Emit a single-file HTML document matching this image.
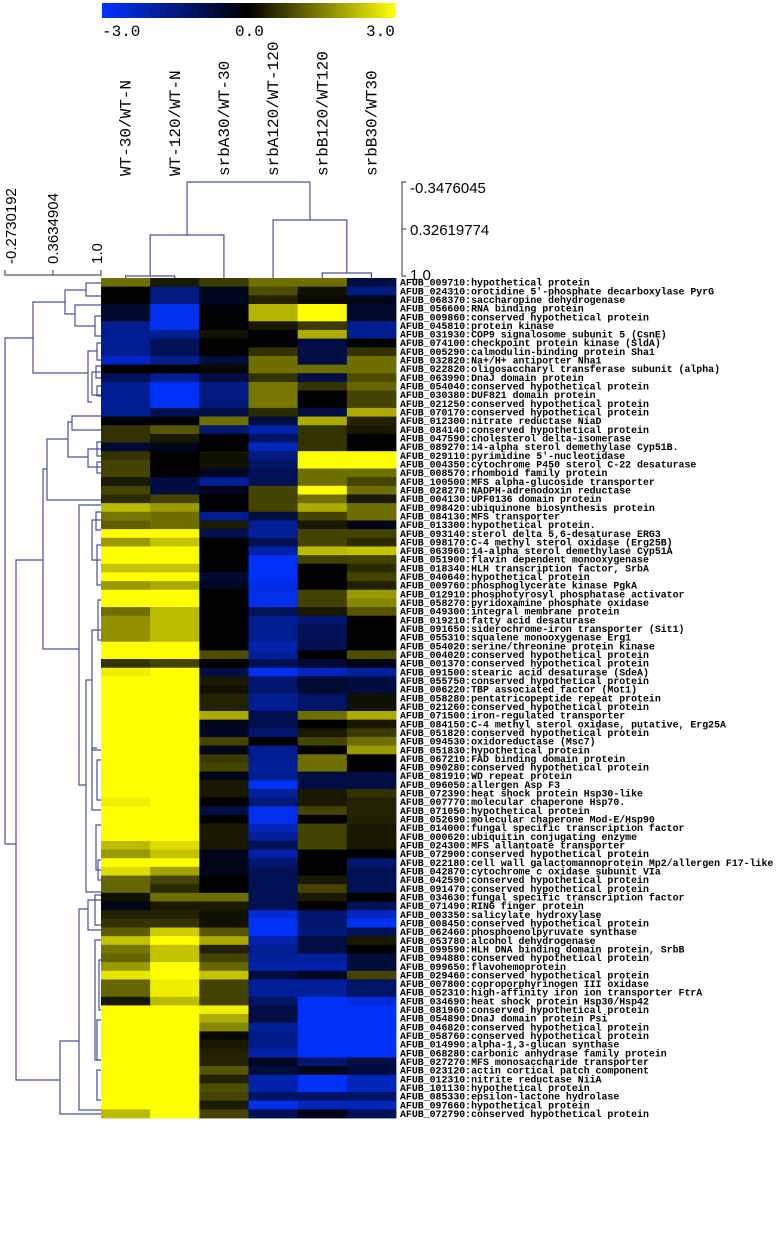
<!DOCTYPE html>
<html><head><meta charset="utf-8"><style>
html,body{margin:0;padding:0;background:#fff;}
svg{display:block;}
.rl{font-family:"Liberation Mono",monospace;font-size:9.9px;font-weight:bold;fill:#000;}
.cl{font-family:"Liberation Mono",monospace;font-size:16px;fill:#000;}
.sc{font-family:"Liberation Sans",sans-serif;font-size:15px;fill:#000;}
</style></head><body>
<svg id="chart" width="779" height="1233" viewBox="0 0 779 1233" xmlns="http://www.w3.org/2000/svg">
<defs><linearGradient id="cbg" x1="0" x2="1" y1="0" y2="0">
<stop offset="0" stop-color="#0033ff"/><stop offset="0.5" stop-color="#000"/><stop offset="1" stop-color="#ffff00"/></linearGradient></defs>
<rect x="0" y="0" width="779" height="1233" fill="#fff"/>
<g>
<rect x="102" y="3" width="293" height="15" fill="url(#cbg)"/>
<text class="cl" x="102" y="36">-3.0</text>
<text class="cl" x="235" y="36">0.0</text>
<text class="cl" x="366" y="36">3.0</text>
</g>
<g id="colLabels"></g>
<g id="colDendro" stroke="#4a5199" stroke-width="1.2" fill="none"></g>
<g stroke="#555" stroke-width="1.2" fill="none">
<path d="M406,182 H402 V276 H406 M402,229 H406"/>
</g>
<text class="sc" x="410" y="193">-0.3476045</text>
<text class="sc" x="410" y="235">0.32619774</text>
<text class="sc" x="410" y="280">1.0</text>
<g stroke="#555" stroke-width="1.2" fill="none">
<path d="M5,270 V275 H101 V270 M53,275 V270"/>
</g>
<text class="sc" transform="translate(16,264) rotate(-90)">-0.2730192</text>
<text class="sc" transform="translate(58,264) rotate(-90)">0.3634904</text>
<text class="sc" transform="translate(102,264) rotate(-90)">1.0</text>
<g id="rowDendro" stroke="#4a5199" stroke-width="1.2" fill="none"></g>
<g id="cells"></g>
<g id="rowLabels"></g>
</svg>
<script>
const columns = ["WT-30/WT-N","WT-120/WT-N","srbA30/WT-30","srbA120/WT-120","srbB120/WT120","srbB30/WT30"];
const rowIds = ["009710","024310","068370","056600","009860","045810","031930","074100","005290","032820","022820","063990","054040","030380","021250","070170","012300","084140","047590","089270","029110","004350","008570","100500","028270","004130","098420","084130","013300","093140","098170","063960","051900","018340","040640","009760","012910","058270","049300","019210","091650","055310","054020","004020","001370","091500","055750","006220","058280","021260","071500","084150","051820","094530","051830","067210","090280","081910","096050","072390","007770","071050","052690","014000","000620","024300","072900","022180","042870","042590","091470","034630","071490","003350","008450","062460","053780","099590","094880","099650","029460","007800","052310","034690","081960","054890","046820","058760","014990","068280","027270","023120","012310","101130","085330","097660","072790"];
const rowNames = ["hypothetical protein","orotidine 5'-phosphate decarboxylase PyrG","saccharopine dehydrogenase","RNA binding protein","conserved hypothetical protein","protein kinase","COP9 signalosome subunit 5 (CsnE)","checkpoint protein kinase (SldA)","calmodulin-binding protein Sha1","Na+/H+ antiporter Nha1","oligosaccharyl transferase subunit (alpha)","DnaJ domain protein","conserved hypothetical protein","DUF821 domain protein","conserved hypothetical protein","conserved hypothetical protein","nitrate reductase NiaD","conserved hypothetical protein","cholesterol delta-isomerase","14-alpha sterol demethylase Cyp51B.","pyrimidine 5'-nucleotidase","cytochrome P450 sterol C-22 desaturase","rhomboid family protein","MFS alpha-glucoside transporter","NADPH-adrenodoxin reductase","UPF0136 domain protein","ubiquinone biosynthesis protein","MFS transporter","hypothetical protein.","sterol delta 5,6-desaturase ERG3","C-4 methyl sterol oxidase (Erg25B)","14-alpha sterol demethylase Cyp51A","flavin dependent monooxygenase","HLH transcription factor, SrbA","hypothetical protein","phosphoglycerate kinase PgkA","phosphotyrosyl phosphatase activator","pyridoxamine phosphate oxidase","integral membrane protein","fatty acid desaturase","siderochrome-iron transporter (Sit1)","squalene monooxygenase Erg1","serine/threonine protein kinase","conserved hypothetical protein","conserved hypothetical protein","stearic acid desaturase (SdeA)","conserved hypothetical protein","TBP associated factor (Mot1)","pentatricopeptide repeat protein","conserved hypothetical protein","iron-regulated transporter","C-4 methyl sterol oxidase, putative, Erg25A","conserved hypothetical protein","oxidoreductase (Msc7)","hypothetical protein","FAD binding domain protein","conserved hypothetical protein","WD repeat protein","allergen Asp F3","heat shock protein Hsp30-like","molecular chaperone Hsp70.","hypothetical protein","molecular chaperone Mod-E/Hsp90","fungal specific transcription factor","ubiquitin conjugating enzyme","MFS allantoate transporter","conserved hypothetical protein","cell wall galactomannoprotein Mp2/allergen F17-like","cytochrome c oxidase subunit VIa","conserved hypothetical protein","conserved hypothetical protein","fungal specific transcription factor","RING finger protein","salicylate hydroxylase","conserved hypothetical protein","phosphoenolpyruvate synthase","alcohol dehydrogenase","HLH DNA binding domain protein, SrbB","conserved hypothetical protein","flavohemoprotein","conserved hypothetical protein","coproporphyrinogen III oxidase","high-affinity iron ion transporter FtrA","heat shock protein Hsp30/Hsp42","conserved hypothetical protein","DnaJ domain protein Psi","conserved hypothetical protein","conserved hypothetical protein","alpha-1,3-glucan synthase","carbonic anhydrase family protein","MFS monosaccharide transporter","actin cortical patch component","nitrite reductase NiiA","hypothetical protein","epsilon-lactone hydrolase","hypothetical protein","conserved hypothetical protein"];
const wt30 = [1.3,0,0,-0.5,-0.5,-1.7,-1.7,-1.7,-1.7,-2.3,0,-1,-1.7,-1.7,-1.7,-1.7,0,0.6,0.6,-0.6,0.6,0.8,0.8,0.3,0.8,0.5,2.2,1.4,1.1,3,1.8,3,3,2.3,3,1.8,3,3,1.3,1.7,1.7,1.7,3,3,0.6,2.8,3,3,3,3,3,3,3,3,3,3,3,3,3,3,2.8,3,3,3,3,2.2,1.8,3,2.6,1.2,1.2,0.2,-0.3,0.4,0.6,1.1,2.3,1.4,1.2,1.8,2.7,1.2,1.2,0.3,3,3,3,3,3,3,3,3,3,3,3,3,2.2];
const wt120 = [0.3,-1.5,-1.5,-2.8,-2.8,-2.8,-1.7,-1,-1,-1.7,0,-1.7,-2.9,-2.9,-2.9,-1,0,1,0.3,-0.3,0,0,0,-0.8,-0.7,0.8,1.8,1.3,1.3,3,2.3,3,3,2.3,3,2,3,3,2.2,2.2,2.2,2.2,3,3,0.8,3,3,3,3,3,3,3,3,3,3,3,3,3,3,3,3,3,3,3,3,2.6,2.3,3,1.9,0.8,0.5,1.3,0.3,0.4,0.6,2.4,3,2.3,2.3,3,3,2.8,2.8,2.2,3,3,3,3,3,3,3,3,3,3,3,3,3];
const srbA30 = [0.7,-0.3,-0.4,-0.1,0,0,0.2,0,0,-0.7,0.1,-0.8,-1.5,-1.5,-1.4,-0.8,1.3,-1.3,0,0,0.2,0.2,-0.4,-1.8,-0.3,0,0,-1.7,0.3,-0.9,0,0,0,0,-0.6,-0.4,0,0,0,0,0,0,0,0.9,0,-0.8,0.3,0.2,0.4,0.4,2,-0.3,-0.4,0.8,-0.3,0.7,0.8,-0.3,0.3,0.3,0,-0.8,0,0.3,0.3,0.3,-0.3,-0.3,-0.3,0,0,1.3,0.3,0.2,0.2,1,2,0.4,0.8,1.2,2.3,0.8,0.8,0.8,2.8,2,1.6,0.1,0.3,0.4,0.4,1,0.4,0.9,0.8,0.3,0.8];
const srbA120 = [1.3,0.9,0.4,2.1,2.1,0.3,0,0,0.6,1.3,1.3,0.6,1.4,1.4,1.4,0.5,-0.8,-2,-1.2,-2.2,-1.5,-1.2,-1,-1,0.8,0.8,0.8,-0.8,-1.8,-1.8,-1,-2,-2.9,-2.9,-2.9,-2.7,-2.7,-2.8,-1,-1.7,-1.7,-1.7,-2,-1.8,-1,-2.8,-1.3,-1.3,-1.7,-1.7,-0.9,-0.9,-1.3,0,-1.7,-1.7,-1.8,-1.7,-2.9,-1.8,-1.4,-2.8,-2.8,-2.2,-1.8,-1,-2,-1.3,-1,-1,-1,-1,-1,-2.5,-2.9,-2.9,-2,-1.7,-1.8,-2,-0.7,-1.8,-1.8,-1.2,-0.8,-0.8,-1.8,-1.6,-1.6,-2,-0.4,-0.7,-2,-2,-1.2,-2.8,-1];
const srbB120 = [1.3,0.2,0.1,3,3,0.7,2,-0.8,-0.8,-0.8,1.3,-0.8,0.6,0,0,-0.8,2,0.6,0.6,0.6,3,3,1.3,1.3,3,1.3,2,0.8,0.3,0.8,0.8,2.2,0.8,0,0,0,0.8,0.8,0.3,-1.3,-1,-1,-0.9,0,-0.6,-2.2,-0.6,-0.6,-1.2,-1.2,1.3,0,0.3,0.8,0,1.3,1.3,-0.8,-0.8,0.3,0.3,0.8,0,0.8,0.8,0.8,0,0,0,0.3,0.8,0.3,0,-1.3,-1.3,-1.4,-0.8,-0.8,-1.8,-2,-0.4,-1.8,-1.8,-2.9,-2.9,-2.9,-2.9,-2.9,-2.9,-2.9,-1.3,-0.3,-2.9,-2.9,-1.2,-2.2,-0.3];
const srbB30 = [-0.8,-1.5,-0.3,-0.5,-0.5,-1.7,-1.7,0,0.6,1.3,1.3,0.9,1.2,0.8,0.8,2,0.4,0.3,0,0,3,3,1.3,0.8,1.3,0.3,1.3,1.3,-0.3,0.8,0.5,2.3,0.8,0.5,0.8,0.4,1.8,1.6,1,0,0,0,0,0.9,-0.2,-1.8,-0.8,-0.7,0.2,0.2,2,0.3,0.7,1.3,1.8,0,0,-0.8,-0.8,0.6,0.4,0.4,0.4,0.3,0.3,0.3,0,-1.3,-1,-1,-1,0,-1,-2.3,-2.9,-1,0.3,0,-0.7,-0.7,0.8,-1.2,-1.2,-2.6,-2.9,-2.9,-2.9,-2.9,-2.9,-2.9,-0.8,-0.7,-2.2,-2.2,-1.2,-2.2,-1];
const series = [wt30, wt120, srbA30, srbA120, srbB120, srbB30];

const NS = "http://www.w3.org/2000/svg";
const X0 = 101, X1 = 396, Y0 = 278, Y1 = 1118;
const colW = (X1 - X0) / columns.length;
const rowH = (Y1 - Y0) / rowIds.length;
function xCol(i){ return X0 + i * colW; }
function yRow(i){ return Y0 + i * rowH; }
function color(v){
  const t = Math.max(-1, Math.min(1, v / 3));
  if (t >= 0) { const c = Math.round(255 * t); return `rgb(${c},${c},0)`; }
  const a = -t; return `rgb(0,${Math.round(51*a)},${Math.round(255*a)})`;
}
function mk(tag, attrs, parent){
  const e = document.createElementNS(NS, tag);
  for (const k in attrs) e.setAttribute(k, attrs[k]);
  parent.appendChild(e); return e;
}
const cells = document.getElementById('cells');
series.forEach((vals, c) => {
  vals.forEach((v, r) => {
    const el = mk('rect', {x: xCol(c), y: yRow(r), width: colW + 0.4, height: rowH + 0.4, fill: color(v)}, cells);
    
    
  });
});
const rl = document.getElementById('rowLabels');
rowIds.forEach((id, r) => {
  const t = mk('text', {x: 400, y: yRow(r) + rowH/2 + 3.3, class: 'rl'}, rl);
  t.textContent = 'AFUB_' + id + ':' + rowNames[r];
  
  
});
const cl = document.getElementById('colLabels');
columns.forEach((name, c) => {
  const cx = xCol(c) + colW/2 + 5;
  const t = mk('text', {class: 'cl', transform: `translate(${cx},176) rotate(-90)`}, cl);
  t.textContent = name;
  
  
});
// column dendrogram (tree structure: ((0,1),2) , (3,(4,5)))
const cd = document.getElementById('colDendro');
function cc(i){ return xCol(i) + colW/2; }
function link(parent, x1, x2, y, yl, yr){
  const p = mk('path', {d: `M${x1},${yl} V${y} H${x2} V${yr}`}, parent);
  
  
}
link(cd, cc(0), cc(1), 276, Y0, Y0);
const a01 = (cc(0)+cc(1))/2;
link(cd, a01, cc(2), 235, 276, Y0);
link(cd, cc(4), cc(5), 273, Y0, Y0);
const a45 = (cc(4)+cc(5))/2;
link(cd, cc(3), a45, 220, Y0, 273);
link(cd, (a01+cc(2))/2, (cc(3)+a45)/2, 182, 235, 220);
// row dendrogram (approximate drawn structure)
const rd = document.getElementById('rowDendro');
const segs = [
 "M33,338 H5 V844 H16","M65,302 H33 V373 H88",
 "M86,290 H65 V314 H75","M101,283 H86 V296 H101","M101,305 H75 V326 H95","M101,316 H95 V336 H101",
 "M97,351 H88 V402 H92","M101,343 H97 V360 H101","M101,372 H92 V395 H101","M101,366 H96 V378 H101","M101,386 H97 V396 H101",
 "M43,560 H16 V1080 H60","M47,469 H43 V649 H79",
 "M68,439 H47 V500 H101","M72,422 H68 V457 H88","M101,416 H72 V430 H101","M101,449 H88 V467 H101","M101,442 H97 V456 H101","M101,462 H97 V473 H101",
 "M101,505 H79 V785 H86","M101,512 H96 V530 H101","M101,520 H92 V560 H101","M101,545 H97 V585 H101","M101,600 H98 V640 H101",
 "M92,680 H86 V892 H101","M101,630 H92 V750 H101","M97,748 H92 V810 H101","M101,760 H97 V800 H101","M101,860 H98 V880 H101","M101,825 H96 V870 H101",
 "M79,1041 H60 V1114 H101","M88,909 H79 V1110 H101","M101,900 H88 V930 H101","M101,895 H95 V925 H101","M101,940 H95 V1060 H101","M101,960 H99 V1010 H101","M101,1020 H97 V1060 H101","M101,1070 H97 V1100 H101"
];
segs.forEach(d => {
  const p = mk('path', {d: d}, rd);
  
  
});
</script>
</body></html>
